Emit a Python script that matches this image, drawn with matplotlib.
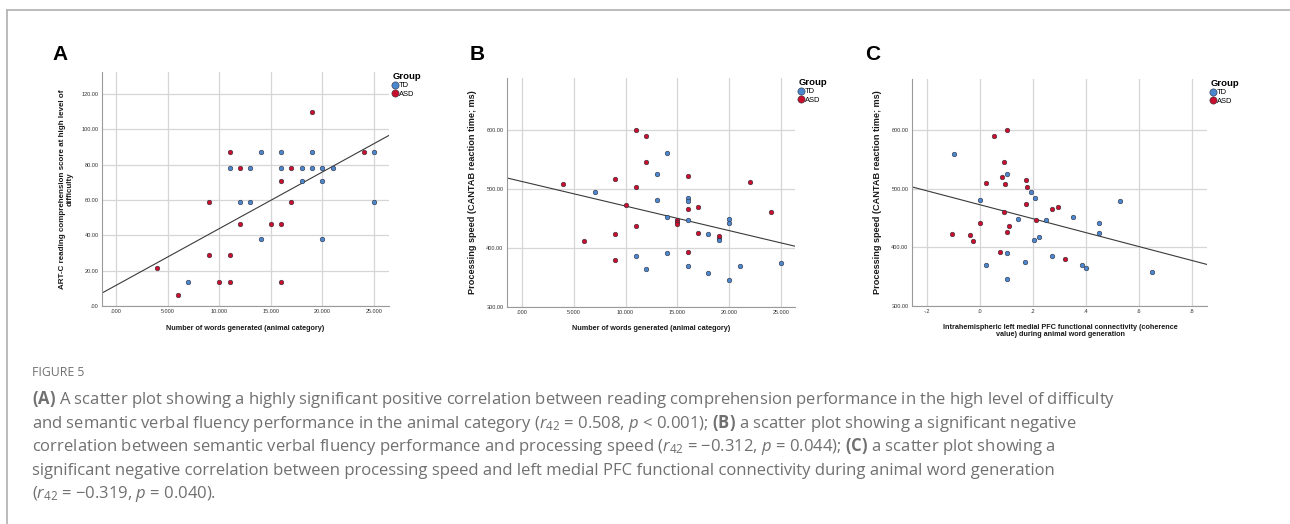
import numpy as np
import matplotlib
matplotlib.use("Agg")
import matplotlib.pyplot as plt
from matplotlib.lines import Line2D
from matplotlib.ticker import FuncFormatter

# -------------------------------
# DATA
# -------------------------------
# Panel A: words generated vs ART-C score
a_td_x = [7, 11, 12, 13, 13, 14, 14, 16, 16, 18, 18, 19, 19, 20, 20, 20, 21, 25, 25]
a_td_y = [13.6, 78, 59, 78, 59, 87, 37.7, 87, 78, 78, 71, 87, 78, 78, 71, 37.7, 78, 87, 59]
a_asd_x = [4, 6, 9, 9, 10, 11, 11, 11, 12, 12, 15, 16, 16, 16, 17, 17, 19, 24]
a_asd_y = [21.7, 6, 59, 29, 13.6, 87, 29, 13.6, 78, 46.6, 46.6, 71, 46.6, 13.6, 78, 59, 110, 87]
a_fit = (11.7, 3.21)   # intercept, slope

# Panel B: words generated vs processing speed
b_td_x = [7, 11, 12, 13, 13, 14, 14, 14, 16, 16, 16, 16, 18, 18, 19, 19, 20, 20, 20, 21, 25]
b_td_y = [495, 386, 365, 526, 481, 560.5, 452, 391, 484.7, 479, 447, 370,
          424, 357.5, 417.5, 413, 449, 442, 345.6, 369.5, 375]
b_asd_x = [4, 6, 9, 9, 9, 10, 11, 11, 11, 12, 12, 15, 15, 15, 16, 16, 16, 17, 17, 19, 22, 24]
b_asd_y = [508.5, 412, 516.4, 423, 380, 473.4, 600, 504, 437, 589.8, 546, 447, 444, 441,
           521.5, 465.5, 393, 469.5, 426, 421, 511, 460.5]
b_fit = (512.6, -4.16)

# Panel C: left medial PFC coherence vs processing speed
c_td_x = [-0.098, 0.101, 0.001, 0.191, 0.209, 0.529, 0.143, 0.25, 0.351, 0.45, 0.448,
          0.203, 0.223, 0.1, 0.273, 0.021, 0.168, 0.386, 0.4, 0.65, 0.1]
c_td_y = [560, 526.4, 481, 495.4, 485, 480, 449, 446.6, 451.7, 442, 424,
          413, 417.8, 391.4, 386, 370, 375.9, 369.5, 365.5, 358.6, 346]
c_asd_x = [0.101, 0.054, 0.089, 0.081, 0.021, 0.093, 0.174, 0.176, 0.173, 0.27, 0.295,
           0.091, 0.213, 0.0, 0.109, 0.101, -0.106, -0.039, -0.026, 0.076, 0.32]
c_asd_y = [600, 590, 546, 521, 511, 508, 516, 503.4, 473.6, 465.5, 470,
           461, 446.6, 441.4, 437.4, 426, 423, 420.7, 411.5, 393, 380.5]
c_fit = (473.0, -119.0)

groups = ["TD", "ASD"]

caption_title = "FIGURE 5"
caption_lines = [
    r"$\mathbf{(A)}$ A scatter plot showing a highly significant positive correlation between reading comprehension performance in the high level of difficulty",
    r"and semantic verbal fluency performance in the animal category ($r_{42}$ = 0.508, $p$ < 0.001); $\mathbf{(B)}$ a scatter plot showing a significant negative",
    r"correlation between semantic verbal fluency performance and processing speed ($r_{42}$ = −0.312, $p$ = 0.044); $\mathbf{(C)}$ a scatter plot showing a",
    r"significant negative correlation between processing speed and left medial PFC functional connectivity during animal word generation",
    r"($r_{42}$ = −0.319, $p$ = 0.040).",
]

# -------------------------------
# STYLE
# -------------------------------
W, H = 1290, 524
BLUE = "#4b87cf"
RED = "#c8102e"
EDGE = "#2f2f3a"
GRID = "#d6d6d6"
CAP = "#707070"

plt.rcParams["font.family"] = ["Liberation Sans", "DejaVu Sans"]
plt.rcParams["mathtext.fontset"] = "custom"
plt.rcParams["mathtext.rm"] = "Open Sans"
plt.rcParams["mathtext.it"] = "Open Sans:italic"
plt.rcParams["mathtext.bf"] = "Open Sans:bold"


def px(x, y):
    return x / W, 1 - y / H


def box(l, t, r, b):
    return [l / W, 1 - b / H, (r - l) / W, (b - t) / H]


fig = plt.figure(figsize=(W / 100, H / 100), dpi=100)

# frame lines of the figure panel
fig.add_artist(Line2D([7 / W, 1], [1 - 10 / H, 1 - 10 / H], color="#b5b5b5", lw=1.3))
fig.add_artist(Line2D([7 / W, 7 / W], [0, 1 - 10 / H], color="#b5b5b5", lw=1.3))


def dec_fmt(nd):
    def f(v, pos):
        s = f"{v:.{nd}f}"
        if s.startswith("0"):
            s = s[1:]
        elif s.startswith("-0"):
            s = "-" + s[2:]
        return s
    return FuncFormatter(f)


def panel(rect, td_x, td_y, asd_x, asd_y, fit, xlim, ylim, xticks, yticks, xnd, ynd):
    ax = fig.add_axes(rect)
    ax.set_xlim(xlim)
    ax.set_ylim(ylim)
    ax.set_xticks(xticks)
    ax.set_yticks(yticks)
    ax.xaxis.set_major_formatter(dec_fmt(xnd))
    ax.yaxis.set_major_formatter(dec_fmt(ynd))
    ax.grid(True, color=GRID, lw=0.9)
    ax.set_axisbelow(True)
    for s in ["top", "right"]:
        ax.spines[s].set_visible(False)
    for s in ["left", "bottom"]:
        ax.spines[s].set_color("#9a9a9a")
        ax.spines[s].set_linewidth(0.8)
    ax.tick_params(length=0, labelsize=4, pad=2.5, colors="#333333")
    ax.axline((0, fit[0]), slope=fit[1], color="#3a3a3a", lw=0.8, zorder=2)
    ax.scatter(td_x, td_y, s=11, c=BLUE, edgecolors=EDGE, linewidths=0.4, zorder=3)
    ax.scatter(asd_x, asd_y, s=11, c=RED, edgecolors=EDGE, linewidths=0.4, zorder=3)
    handles = [Line2D([], [], ls="", marker="o", markersize=5.2, markerfacecolor=c,
                      markeredgecolor=EDGE, markeredgewidth=0.4) for c in (BLUE, RED)]
    ax.legend(handles, groups, title="Group", loc="upper left",
              bbox_to_anchor=(1.012, 1.0), frameon=False, fontsize=5.4,
              title_fontproperties={"weight": "bold", "size": 6.8},
              handlelength=0.7, handletextpad=0.15, labelspacing=0.15,
              borderpad=0, borderaxespad=0, alignment="left")
    return ax


axA = panel(box(102, 72, 389, 306), a_td_x, a_td_y, a_asd_x, a_asd_y, a_fit,
            (-1.36, 26.45), (0, 132.5), np.arange(0, 26, 5), np.arange(0, 121, 20), 3, 2)
axB = panel(box(507, 78, 795, 307), b_td_x, b_td_y, b_asd_x, b_asd_y, b_fit,
            (-1.45, 26.35), (300, 688), np.arange(0, 26, 5), np.arange(300, 601, 100), 3, 2)
axC = panel(box(912, 79, 1207, 306), c_td_x, c_td_y, c_asd_x, c_asd_y, c_fit,
            (-0.257, 0.857), (300, 688), np.arange(-0.2, 0.81, 0.2), np.arange(300, 601, 100), 1, 2)

# panel letters
for lab, x in [("A", 60), ("B", 477), ("C", 873)]:
    fig.text(*px(x, 55), lab, fontsize=15, fontweight="bold", ha="center", va="center")

# axis titles
lab_kw = dict(fontweight="bold", color="#1a1a1a", ha="center", va="center")
fig.text(*px(245, 328), "Number of words generated (animal category)", fontsize=5.2, **lab_kw)
fig.text(*px(651, 328), "Number of words generated (animal category)", fontsize=5.2, **lab_kw)
fig.text(*px(1060, 331), "Intrahemispheric left medial PFC functional connectivity (coherence\nvalue) during animal word generation",
         fontsize=5.2, linespacing=1.0, **lab_kw)
fig.text(*px(66, 189), "ART-C reading comprehension score at high level of\ndifficulty",
         fontsize=5.8, rotation=90, linespacing=1.05, **lab_kw)
fig.text(*px(473, 192), "Processing speed (CANTAB reaction time; ms)", fontsize=6.6, rotation=90, **lab_kw)
fig.text(*px(878, 192), "Processing speed (CANTAB reaction time; ms)", fontsize=6.6, rotation=90, **lab_kw)

# caption
fig.text(*px(32, 376), caption_title, fontsize=8.8, color=CAP, family=["Open Sans", "DejaVu Sans"],
         ha="left", va="baseline")
for i, line in enumerate(caption_lines):
    fig.text(*px(32, 404 + 23.6 * i), line, fontsize=12, color=CAP,
             family=["Open Sans", "DejaVu Sans"], ha="left", va="baseline")

fig.savefig("out.png", dpi=100)
